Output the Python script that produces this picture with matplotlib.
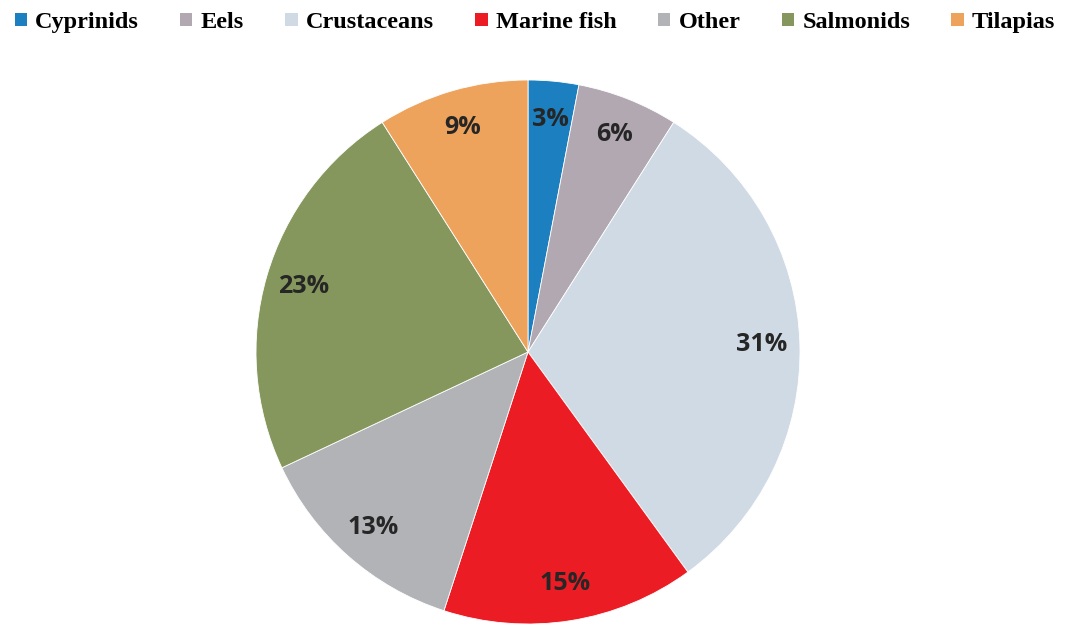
import matplotlib.pyplot as plt
from matplotlib.patches import Patch

# species groups and their share of the total
categories = ["Cyprinids", "Eels", "Crustaceans", "Marine fish", "Other", "Salmonids", "Tilapias"]
shares = [3, 6, 31, 15, 13, 23, 9]
colors = ["#1b7fc0", "#b1a8b1", "#d0dae4", "#ec1c24", "#b1b3b6", "#85975d", "#eea35c"]

fig = plt.figure(figsize=(10.7, 6.25), dpi=100)
# square axes so the pie stays round; sized in pixels of the figure
r_px = 272
cx, cy = 528, 625 - 352
ax = fig.add_axes([(cx - r_px) / 1070, (cy - r_px) / 625, 2 * r_px / 1070, 2 * r_px / 625])

wedges, texts, autotexts = ax.pie(
    shares,
    colors=colors,
    startangle=90,
    counterclock=False,
    radius=1.0,
    autopct=lambda p: f"{p:.0f}%",
    pctdistance=0.86,
    wedgeprops=dict(edgecolor="white", linewidth=0.6),
)
for t in autotexts:
    t.set_fontfamily("Open Sans")
    t.set_fontweight("bold")
    t.set_fontsize(18)
    t.set_color("#262626")
ax.set_xlim(-1, 1)
ax.set_ylim(-1, 1)
ax.set_aspect("equal")
ax.axis("off")

handles = [Patch(facecolor=c, edgecolor="none") for c in colors]
fig.legend(
    handles, categories,
    loc="upper left", bbox_to_anchor=(0.0, 1.004, 1.0, 0.0), mode="expand",
    ncol=len(categories), frameon=False,
    prop=dict(family="Liberation Serif", weight="bold", size=17.5),
    handlelength=0.5, handleheight=0.5, handletextpad=0.35,
    borderaxespad=0.2,
)

fig.savefig("out.png", dpi=100)
